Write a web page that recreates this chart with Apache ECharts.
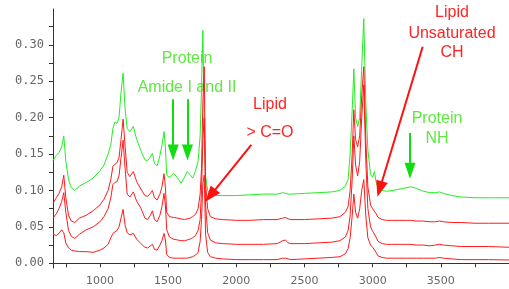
<!DOCTYPE html>
<html>
<head>
<meta charset="utf-8">
<script src="https://cdn.jsdelivr.net/npm/echarts@6/dist/echarts.min.js"></script>
<style>html,body{margin:0;padding:0;background:#fff}#c{width:509px;height:289px}</style>
</head>
<body>
<div id="c"></div>
<script>
// wavenumbers (cm-1)
var wavenumbers = [656,680,700,720,735,750,770,790,815,850,900,950,1000,1030,1060,1080,1095,1110,1125,1140,1155,1170,1185,1200,1220,1245,1270,1300,1330,1350,1370,1385,1400,1420,1440,1455,1470,1480,1490,1510,1540,1570,1595,1620,1640,1660,1680,1700,1720,1735,1745,1755,1765,1775,1790,1810,1850,1900,2000,2100,2200,2300,2340,2360,2380,2400,2500,2600,2700,2760,2800,2820,2835,2850,2862,2875,2890,2905,2920,2935,2950,2965,2985,3000,3013,3025,3040,3070,3100,3150,3200,3250,3280,3320,3370,3420,3460,3490,3520,3580,3650,3750,3850,4000];
var greenSpectrum = [0.141,0.148,0.152,0.160,0.175,0.140,0.115,0.104,0.100,0.106,0.111,0.117,0.127,0.135,0.150,0.163,0.185,0.194,0.192,0.200,0.235,0.261,0.212,0.185,0.181,0.188,0.170,0.155,0.142,0.141,0.146,0.151,0.137,0.134,0.148,0.162,0.181,0.160,0.121,0.118,0.124,0.117,0.110,0.118,0.126,0.122,0.117,0.126,0.140,0.175,0.240,0.320,0.200,0.120,0.100,0.094,0.093,0.093,0.093,0.094,0.095,0.095,0.097,0.096,0.095,0.095,0.096,0.097,0.098,0.100,0.106,0.115,0.150,0.210,0.267,0.200,0.188,0.200,0.270,0.336,0.220,0.156,0.122,0.118,0.126,0.112,0.103,0.100,0.099,0.100,0.102,0.104,0.105,0.103,0.099,0.097,0.097,0.098,0.096,0.093,0.091,0.090,0.090,0.090];
var redSpectrum1 = [0.082,0.090,0.096,0.105,0.121,0.090,0.066,0.058,0.056,0.062,0.066,0.072,0.080,0.088,0.100,0.115,0.133,0.136,0.138,0.145,0.170,0.198,0.160,0.125,0.119,0.126,0.112,0.102,0.093,0.092,0.096,0.100,0.090,0.087,0.095,0.105,0.123,0.105,0.070,0.064,0.063,0.062,0.061,0.060,0.061,0.062,0.064,0.067,0.075,0.095,0.130,0.220,0.270,0.110,0.075,0.064,0.061,0.060,0.059,0.059,0.060,0.060,0.062,0.063,0.061,0.060,0.060,0.061,0.062,0.064,0.070,0.078,0.100,0.150,0.211,0.170,0.160,0.175,0.230,0.270,0.170,0.105,0.080,0.075,0.076,0.068,0.063,0.060,0.059,0.059,0.059,0.059,0.059,0.058,0.058,0.057,0.057,0.058,0.057,0.056,0.056,0.055,0.055,0.055];
var redSpectrum2 = [0.062,0.068,0.075,0.085,0.097,0.070,0.045,0.037,0.034,0.040,0.046,0.050,0.057,0.064,0.075,0.090,0.108,0.111,0.112,0.120,0.145,0.169,0.130,0.095,0.091,0.098,0.085,0.076,0.062,0.060,0.066,0.072,0.060,0.057,0.066,0.078,0.096,0.080,0.046,0.036,0.033,0.032,0.031,0.031,0.032,0.033,0.035,0.038,0.045,0.060,0.100,0.170,0.200,0.080,0.042,0.032,0.028,0.027,0.026,0.026,0.026,0.027,0.031,0.032,0.028,0.027,0.027,0.028,0.029,0.031,0.036,0.045,0.065,0.115,0.175,0.135,0.120,0.140,0.200,0.245,0.140,0.075,0.050,0.044,0.043,0.036,0.030,0.027,0.026,0.026,0.026,0.026,0.026,0.025,0.025,0.024,0.025,0.026,0.025,0.024,0.023,0.023,0.023,0.022];
var redSpectrum3 = [0.040,0.038,0.041,0.046,0.042,0.028,0.021,0.018,0.017,0.016,0.016,0.015,0.018,0.021,0.026,0.035,0.041,0.043,0.045,0.050,0.062,0.074,0.052,0.042,0.039,0.041,0.033,0.027,0.022,0.021,0.024,0.026,0.019,0.018,0.025,0.031,0.041,0.032,0.012,0.008,0.007,0.007,0.007,0.007,0.007,0.008,0.009,0.011,0.015,0.030,0.060,0.110,0.121,0.040,0.015,0.009,0.007,0.006,0.005,0.005,0.005,0.005,0.007,0.007,0.006,0.005,0.006,0.007,0.008,0.009,0.013,0.020,0.035,0.065,0.095,0.070,0.062,0.075,0.100,0.115,0.065,0.035,0.025,0.022,0.021,0.015,0.010,0.008,0.007,0.007,0.007,0.007,0.007,0.007,0.007,0.007,0.007,0.008,0.007,0.006,0.005,0.005,0.005,0.0045];

var xTickValues = [750,1000,1250,1500,1750,2000,2250,2500,2750,3000,3250,3500,3750,4000];
var xLabelValues = [1000,1500,2000,2500,3000,3500];
var yTickValues = [0,0.025,0.05,0.075,0.1,0.125,0.15,0.175,0.2,0.225,0.25,0.275,0.3,0.325];
var yLabelValues = [0,0.05,0.1,0.15,0.2,0.25,0.3];

// annotation arrows in data coordinates [x1,y1,x2,y2]
var greenArrows = [[1537,0.2253,1537,0.152],[1642,0.2253,1642,0.152],[3274,0.179,3274,0.127]];
var redArrows = [[2110,0.1625,1810,0.093],[3367,0.2975,3052,0.102]];

function pairs(ys){ return wavenumbers.map(function(x,i){ return [x, ys[i]]; }); }
function arrowData(list){
  return list.map(function(a){ return [{coord:[a[0],a[1]]},{coord:[a[2],a[3]]}]; });
}

var GREEN = '#22ee22', RED = '#ff1a1a', GREEN_TXT = '#5fe83f', RED_TXT = '#ff2424';
var FONT = '16px "Liberation Sans"';
var chart = echarts.init(document.getElementById('c'), null, {renderer:'canvas'});
var lineBase = {type:'line', showSymbol:false, symbol:'none', animation:false, lineStyle:{width:1}};
function txt(x, y, t, c){
  return {type:'text', x:x, y:y, style:{text:t, fill:c, font:FONT, align:'center', verticalAlign:'middle'}};
}
chart.setOption({
  animation:false,
  backgroundColor:'#fff',
  grid:{left:53, right:0, top:9, bottom:21},
  xAxis:{type:'value', min:656, max:4000,
    axisLine:{lineStyle:{color:'#333', width:1}},
    axisTick:{customValues:xTickValues, length:4, lineStyle:{color:'#333'}},
    axisLabel:{customValues:xLabelValues, color:'#666', fontFamily:'DejaVu Sans', fontSize:11, margin:8,
      formatter:function(v){ return String(Math.round(v)); }},
    splitLine:{show:false}},
  yAxis:{type:'value', min:-0.0065, max:0.3493,
    axisLine:{show:true, lineStyle:{color:'#333', width:1}},
    axisTick:{show:true, customValues:yTickValues, length:4, lineStyle:{color:'#333'}},
    axisLabel:{customValues:yLabelValues, color:'#666', fontFamily:'DejaVu Sans Mono', fontSize:12, margin:9,
      formatter:function(v){ return (+v).toFixed(2); }},
    splitLine:{show:false}},
  series:[
    Object.assign({}, lineBase, {name:'green', data:pairs(greenSpectrum), lineStyle:{width:1,color:GREEN}, itemStyle:{color:GREEN},
      markLine:{silent:true, symbol:['none','triangle'], symbolSize:[11,16], label:{show:false},
        lineStyle:{color:'#11dd11', width:2, type:'solid'}, data:arrowData(greenArrows)}}),
    Object.assign({}, lineBase, {name:'red1', data:pairs(redSpectrum1), lineStyle:{width:1,color:RED}, itemStyle:{color:RED},
      markLine:{silent:true, symbol:['none','triangle'], symbolSize:[12,16], label:{show:false},
        lineStyle:{color:'#ff1010', width:2, type:'solid'}, data:arrowData(redArrows)}}),
    Object.assign({}, lineBase, {name:'red2', data:pairs(redSpectrum2), lineStyle:{width:1,color:RED}, itemStyle:{color:RED}}),
    Object.assign({}, lineBase, {name:'red3', data:pairs(redSpectrum3), lineStyle:{width:1,color:RED}, itemStyle:{color:RED}})
  ],
  graphic:[
    txt(187, 59, 'Protein', GREEN_TXT),
    txt(187, 88, 'Amide I and II', GREEN_TXT),
    txt(270, 105, 'Lipid', RED_TXT),
    txt(270, 133, '> C=O', RED_TXT),
    txt(452, 13, 'Lipid', RED_TXT),
    txt(452, 34, 'Unsaturated', RED_TXT),
    txt(452, 53, 'CH', RED_TXT),
    txt(437, 119, 'Protein', GREEN_TXT),
    txt(437, 139, 'NH', GREEN_TXT)
  ]
});
</script>
</body>
</html>
